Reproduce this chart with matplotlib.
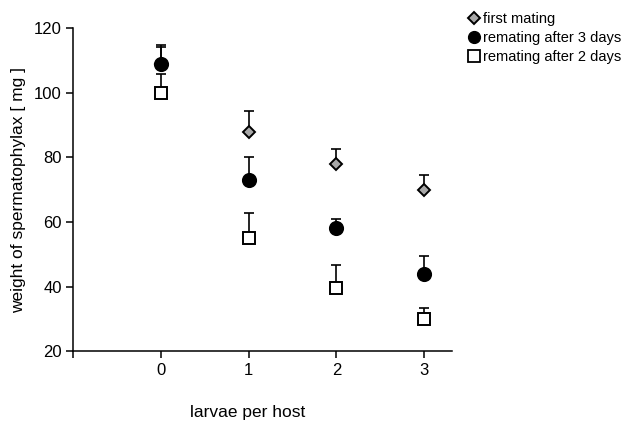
import matplotlib
matplotlib.use("Agg")
import matplotlib.pyplot as plt
from matplotlib.lines import Line2D
import numpy as np

plt.rcParams['font.family'] = ['Liberation Sans', 'DejaVu Sans']

# === data ===
larvae = [0, 1, 2, 3]
first_mating = [108.8, 88.0, 78.0, 70.0]
first_mating_err = [5.2, 6.2, 4.6, 4.6]
remating_3d = [108.8, 73.1, 58.1, 44.0]
remating_3d_err = [5.9, 7.1, 3.0, 5.5]
remating_2d = [100.0, 55.0, 39.5, 30.0]
remating_2d_err = [5.9, 7.9, 7.1, 3.3]
tick_labels = ['', '0', '1', '2', '3']

fig = plt.figure(figsize=(6.29, 4.24), dpi=100)
ax = fig.add_axes([0.116, 0.171, 0.603, 0.763])

def serie(y, err, marker, face, size, z):
    ax.errorbar(larvae, y, yerr=[np.zeros(len(err)), err], fmt='none',
                ecolor='black', elinewidth=1.2, capsize=3.5, capthick=1.2, zorder=z)
    ax.plot(larvae, y, linestyle='none', marker=marker, markersize=size,
            markerfacecolor=face, markeredgecolor='black', markeredgewidth=1.4, zorder=z + 0.5)

serie(first_mating, first_mating_err, 'D', '#a8a8a8', 6.5, 2)
serie(remating_3d, remating_3d_err, 'o', 'black', 9.5, 3)
serie(remating_2d, remating_2d_err, 's', 'white', 9, 4)

ax.set_xlim(-1, 3.32)
ax.set_ylim(20, 120)
ax.set_xticks([-1, 0, 1, 2, 3])
ax.set_xticklabels(tick_labels)
ax.set_yticks([20, 40, 60, 80, 100, 120])
ax.tick_params(direction='out', length=5, width=1.1, labelsize=12, pad=3)
for s in ['top', 'right']:
    ax.spines[s].set_visible(False)
for s in ['left', 'bottom']:
    ax.spines[s].set_linewidth(1.1)

ax.set_xlabel("larvae per host", fontsize=12.5)
ax.xaxis.set_label_coords(0.46, -0.165)
ax.set_ylabel("weight of spermatophylax [ mg ]", fontsize=12.5)
ax.yaxis.set_label_coords(-0.125, 0.5)

handles = [
    Line2D([], [], linestyle='none', marker='D', markersize=6, markerfacecolor='#a8a8a8',
           markeredgecolor='black', markeredgewidth=1.4),
    Line2D([], [], linestyle='none', marker='o', markersize=8.5, markerfacecolor='black',
           markeredgecolor='black'),
    Line2D([], [], linestyle='none', marker='s', markersize=8, markerfacecolor='white',
           markeredgecolor='black', markeredgewidth=1.3),
]
fig.legend(handles, ['first mating', 'remating after 3 days', 'remating after 2 days'],
           loc='upper left', bbox_to_anchor=(0.725, 1.0), frameon=False, fontsize=10.5,
           handlelength=0.8, handletextpad=0.25, labelspacing=0.35, borderpad=0.3)

plt.savefig('out.png', dpi=100)
